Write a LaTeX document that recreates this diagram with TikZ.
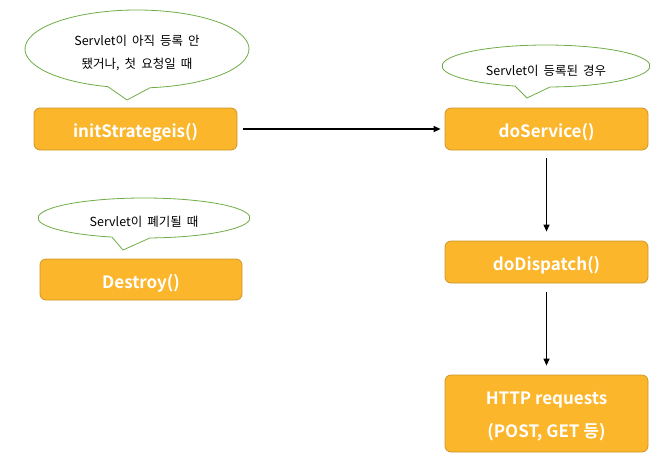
\documentclass[tikz,border=0pt]{standalone}
\usepackage{fontspec}
\setmainfont{Noto Sans CJK KR}[BoldFont={Noto Sans CJK KR Bold}]
\newfontfamily\calloutfont{Noto Sans CJK KR}[WordSpace=1.8]
\usetikzlibrary{arrows.meta}
\definecolor{boxfill}{RGB}{251,182,44}
\definecolor{boxline}{RGB}{205,150,40}
\definecolor{callline}{RGB}{112,173,71}
\newcommand{\lowr}[1]{\raisebox{-3.5pt}[\height][\depth]{#1}}
\newcommand{\lowc}[1]{\raisebox{-2pt}[\height][\depth]{#1}}
\tikzset{
  box/.style={draw=boxline, fill=boxfill, rounded corners=6pt, line width=0.8pt, text=white, font=\fontsize{17}{20}\selectfont\bfseries, align=center, inner sep=0pt},
  callout/.style={draw=callline, fill=white, line width=0.8pt},
  ctext/.style={font=\calloutfont\fontsize{12.5}{23}\selectfont, align=center, text=black, inner sep=0pt},
  conn/.style={-{Triangle[length=7pt,width=6pt]}, line width=1.2pt, black}
}
\begin{document}
\begin{tikzpicture}[x=1pt,y=-1pt]
\useasboundingbox (0,0) rectangle (670,475);
% boxes
\node[box, minimum width=203pt, minimum height=42pt] (init) at (135.5,129) {\lowr{initStrategeis()}};
\node[box, minimum width=203pt, minimum height=42pt] (service) at (546.5,129) {\lowr{doService()}};
\node[box, minimum width=202pt, minimum height=41pt] (destroy) at (141,279.5) {\lowr{Destroy()}};
\node[box, minimum width=203pt, minimum height=42pt] (dispatch) at (546.5,262) {\lowr{doDispatch()}};
\node[box, minimum width=203pt, minimum height=77pt, font=\fontsize{17}{33}\selectfont\bfseries] (http) at (546.5,413.5) {\lowr{HTTP requests}\\\lowr{(POST, GET 등)}};
% callouts
\draw[callout] (137,49) ++(105:112 and 39) arc[start angle=105,end angle=443.3,x radius=112,y radius=39] -- (127,100) -- cycle;
\node[ctext] (c1) at (137,51) {\lowc{Servlet이 아직 등록 안}\\\lowc{됐거나, 첫 요청일 때}};
\draw[callout] (546,66) ++(107.3:104 and 21) arc[start angle=107.3,end angle=447.8,x radius=104,y radius=21] -- (527,98) -- cycle;
\node[ctext] (c2) at (546,69) {\lowc{Servlet이 등록된 경우}};
\draw[callout] (144,218) ++(107.6:106 and 20) arc[start angle=107.6,end angle=446.8,x radius=106,y radius=20] -- (123,250) -- cycle;
\node[ctext] (c3) at (144,220) {\lowc{Servlet이 폐기될 때}};
% connectors
\draw[conn] ([xshift=6pt]init.east) -- ([xshift=-4pt]service.west);
\draw[conn] ([yshift=-8pt]service.south) -- ([yshift=9pt]dispatch.north);
\draw[conn] ([yshift=-9pt]dispatch.south) -- ([yshift=9pt]http.north);
\end{tikzpicture}
\end{document}
